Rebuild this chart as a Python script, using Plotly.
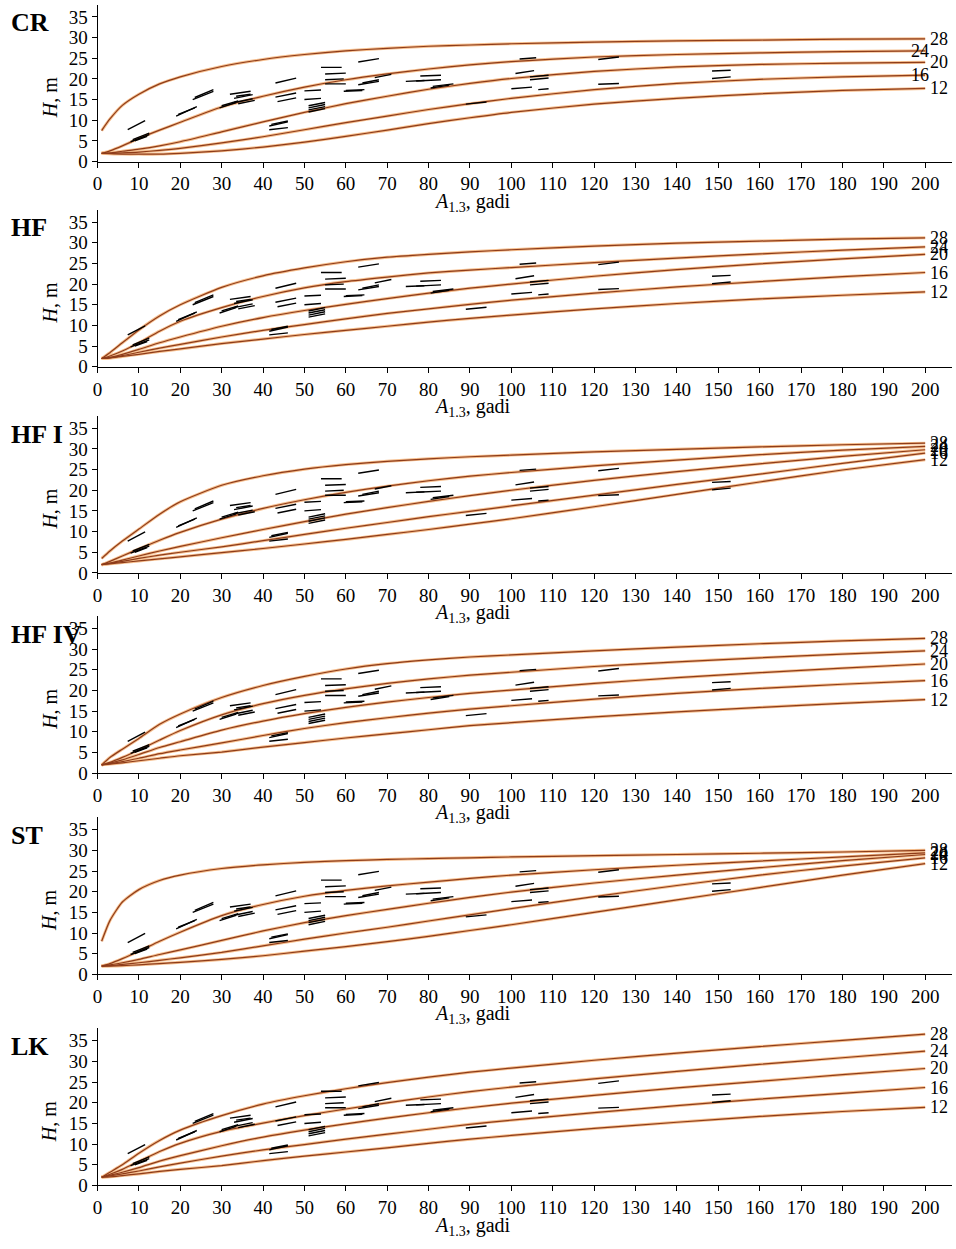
import plotly.graph_objects as go

# ---------------- data ----------------
AGES = [1, 3, 6, 10, 15, 20, 30, 40, 50, 60, 70, 80, 90, 100, 120, 140, 160, 180, 200]
SITE_LABELS = ["28", "24", "20", "16", "12"]
PANELS = ["CR", "HF", "HF I", "HF IV", "ST", "LK"]

CR_28 = [7.5, 10.3, 13.6, 16.3, 18.8, 20.5, 23.0, 24.7, 25.9, 26.8, 27.4, 27.9, 28.2, 28.5, 28.9, 29.2, 29.4, 29.6, 29.7]
CR_24 = [2.0, 2.6, 3.8, 5.6, 7.6, 9.5, 13.2, 15.8, 18.0, 19.8, 21.2, 22.4, 23.4, 24.2, 25.3, 25.9, 26.3, 26.6, 26.8]
CR_20 = [2.0, 2.1, 2.5, 3.0, 3.8, 4.8, 7.2, 9.6, 11.9, 14.0, 15.8, 17.5, 18.9, 20.1, 21.8, 22.9, 23.5, 23.8, 24.0]
CR_16 = [2.0, 2.0, 2.1, 2.3, 2.7, 3.2, 4.5, 6.0, 7.7, 9.4, 11.0, 12.6, 14.0, 15.3, 17.4, 18.9, 19.9, 20.5, 20.9]
CR_12 = [2.0, 1.9, 1.8, 1.8, 1.8, 2.0, 2.6, 3.5, 4.7, 6.1, 7.6, 9.2, 10.6, 11.9, 13.9, 15.3, 16.4, 17.2, 17.7]

HF_28 = [2.0, 3.4, 5.8, 8.9, 12.3, 15.0, 19.2, 22.0, 23.9, 25.4, 26.5, 27.2, 27.8, 28.3, 29.2, 29.9, 30.4, 30.9, 31.2]
HF_24 = [2.0, 2.6, 3.8, 5.8, 8.6, 11.0, 14.3, 17.0, 19.1, 20.6, 21.7, 22.7, 23.4, 24.0, 25.2, 26.3, 27.3, 28.2, 29.0]
HF_20 = [2.0, 2.3, 3.0, 4.2, 5.8, 7.2, 9.8, 11.9, 13.6, 15.1, 16.5, 17.8, 19.0, 20.0, 21.9, 23.5, 24.9, 26.1, 27.2]
HF_16 = [2.0, 2.2, 2.7, 3.5, 4.5, 5.4, 7.2, 8.8, 10.2, 11.6, 12.9, 14.0, 15.1, 16.1, 17.8, 19.3, 20.6, 21.8, 22.8]
HF_12 = [2.0, 2.1, 2.5, 3.0, 3.7, 4.3, 5.6, 6.7, 7.8, 8.8, 9.8, 10.8, 11.7, 12.5, 14.0, 15.3, 16.4, 17.3, 18.1]

HFI_28 = [3.5, 5.3, 7.7, 10.6, 14.2, 17.2, 21.2, 23.5, 25.1, 26.2, 27.0, 27.6, 28.1, 28.5, 29.3, 29.9, 30.5, 31.0, 31.4]
HFI_24 = [2.0, 2.8, 4.1, 5.8, 7.9, 9.8, 13.0, 15.6, 17.7, 19.5, 21.0, 22.3, 23.4, 24.3, 25.9, 27.3, 28.6, 29.7, 30.6]
HFI_20 = [2.0, 2.4, 3.1, 4.1, 5.3, 6.4, 8.5, 10.5, 12.4, 14.2, 15.8, 17.3, 18.7, 20.0, 22.4, 24.5, 26.4, 28.2, 29.8]
HFI_16 = [2.0, 2.3, 2.8, 3.5, 4.3, 5.0, 6.3, 7.8, 9.3, 10.8, 12.2, 13.6, 14.9, 16.2, 18.8, 21.4, 23.9, 26.5, 29.0]
HFI_12 = [2.0, 2.2, 2.5, 2.9, 3.4, 3.9, 4.9, 5.9, 7.0, 8.1, 9.3, 10.5, 11.8, 13.1, 16.0, 19.0, 22.0, 24.9, 27.4]

HFIV_28 = [2.0, 3.8, 5.8, 8.4, 11.8, 14.3, 18.3, 21.2, 23.4, 25.2, 26.5, 27.4, 28.1, 28.6, 29.6, 30.5, 31.3, 32.0, 32.6]
HFIV_24 = [2.0, 2.6, 3.8, 5.6, 8.0, 10.3, 14.1, 16.8, 18.8, 20.4, 21.7, 22.8, 23.7, 24.4, 25.8, 26.9, 27.9, 28.8, 29.6]
HFIV_20 = [2.0, 2.4, 3.2, 4.5, 6.2, 7.6, 10.4, 12.6, 14.4, 15.9, 17.2, 18.3, 19.3, 20.1, 21.7, 23.1, 24.3, 25.4, 26.4]
HFIV_16 = [2.0, 2.3, 2.8, 3.6, 4.7, 5.6, 7.3, 9.1, 10.8, 12.2, 13.4, 14.5, 15.5, 16.3, 17.9, 19.3, 20.5, 21.5, 22.4]
HFIV_12 = [2.0, 2.2, 2.5, 3.0, 3.6, 4.2, 5.1, 6.3, 7.4, 8.5, 9.5, 10.5, 11.5, 12.2, 13.6, 14.8, 15.9, 16.9, 17.8]

ST_28 = [8.0, 13.0, 17.5, 20.5, 22.7, 24.0, 25.6, 26.5, 27.1, 27.5, 27.8, 28.0, 28.2, 28.4, 28.7, 29.0, 29.3, 29.6, 30.0]
ST_24 = [2.0, 2.6, 3.8, 5.6, 8.0, 10.2, 14.2, 16.9, 18.9, 20.3, 21.4, 22.3, 23.2, 24.0, 25.3, 26.4, 27.4, 28.4, 29.4]
ST_20 = [2.0, 2.3, 2.8, 3.6, 4.8, 5.9, 8.2, 10.5, 12.5, 14.2, 15.7, 17.2, 18.6, 19.9, 22.1, 24.0, 25.8, 27.5, 29.0]
ST_16 = [2.0, 2.1, 2.4, 2.8, 3.4, 4.0, 5.3, 6.9, 8.5, 10.0, 11.4, 12.9, 14.4, 15.9, 18.8, 21.5, 24.0, 26.2, 28.2]
ST_12 = [2.0, 2.0, 2.1, 2.3, 2.6, 2.9, 3.6, 4.5, 5.6, 6.7, 7.9, 9.2, 10.6, 12.0, 15.0, 18.0, 21.0, 24.0, 26.8]

LK_28 = [2.0, 3.2, 5.0, 7.8, 10.9, 13.4, 16.9, 19.7, 21.7, 23.4, 24.9, 26.2, 27.4, 28.4, 30.3, 32.0, 33.6, 35.1, 36.6]
LK_24 = [2.0, 2.7, 3.9, 5.8, 8.2, 10.2, 13.1, 15.1, 16.9, 18.5, 20.0, 21.4, 22.7, 23.8, 25.8, 27.6, 29.3, 30.9, 32.5]
LK_20 = [2.0, 2.5, 3.2, 4.3, 5.9, 7.2, 9.6, 11.7, 13.4, 14.9, 16.3, 17.6, 18.8, 19.9, 21.8, 23.6, 25.2, 26.8, 28.3]
LK_16 = [2.0, 2.3, 2.8, 3.5, 4.5, 5.4, 7.1, 8.6, 9.9, 11.2, 12.4, 13.6, 14.8, 15.8, 17.6, 19.3, 20.9, 22.3, 23.7]
LK_12 = [2.0, 2.1, 2.4, 2.8, 3.4, 3.9, 4.8, 6.0, 7.1, 8.1, 9.1, 10.2, 11.2, 12.1, 13.8, 15.3, 16.7, 17.9, 18.9]

CURVES = {
    "CR": [CR_28, CR_24, CR_20, CR_16, CR_12],
    "HF": [HF_28, HF_24, HF_20, HF_16, HF_12],
    "HF I": [HFI_28, HFI_24, HFI_20, HFI_16, HFI_12],
    "HF IV": [HFIV_28, HFIV_24, HFIV_20, HFIV_16, HFIV_12],
    "ST": [ST_28, ST_24, ST_20, ST_16, ST_12],
    "LK": [LK_28, LK_24, LK_20, LK_16, LK_12],
}

# observed height-growth segments (age start, height start, age end, height end)
SEG_A0 = [7.3, 8.0, 8.5, 9.0, 19.0, 19.5, 23.0, 23.5, 29.5, 30.0, 32.0, 33.0, 33.0, 34.0, 33.5,
          41.5, 41.5, 42.0, 43.0, 43.0, 43.5, 50.0, 50.0, 51.0, 51.0, 51.0, 51.0,
          54.0, 55.0, 55.0, 55.0, 59.5, 60.0, 63.0, 63.0, 64.0, 67.0,
          74.5, 77.0, 78.0, 81.0, 80.5, 89.0,
          102.0, 101.0, 104.5, 104.5, 100.0, 106.5, 121.0, 121.0, 148.5, 148.5]
SEG_H0 = [7.7, 4.8, 5.3, 5.0, 11.0, 11.4, 15.0, 15.5, 13.0, 13.5, 16.3, 15.3, 14.3, 14.0, 15.8,
          8.6, 7.7, 9.0, 19.0, 15.6, 14.5, 17.1, 15.0, 12.0, 12.5, 13.0, 13.5,
          22.8, 21.2, 19.8, 18.8, 17.0, 17.2, 24.1, 18.6, 19.0, 20.3,
          19.4, 19.5, 20.7, 18.2, 17.8, 13.9,
          24.8, 21.3, 20.5, 19.8, 17.6, 17.4, 24.7, 18.7, 21.9, 20.1]
SEG_A1 = [11.5, 12.5, 12.5, 12.0, 24.0, 23.5, 28.0, 28.0, 33.5, 34.0, 37.0, 37.5, 37.5, 38.0, 37.0,
          46.0, 46.0, 46.0, 48.0, 48.0, 48.0, 54.0, 54.0, 55.0, 55.0, 55.0, 55.0,
          59.0, 60.0, 59.5, 60.0, 64.0, 64.5, 68.0, 68.0, 68.0, 71.0,
          79.0, 83.0, 83.0, 86.0, 85.0, 94.0,
          106.0, 105.5, 109.0, 109.0, 105.0, 109.0, 126.0, 126.0, 153.0, 153.0]
SEG_H1 = [9.9, 6.5, 6.9, 6.1, 13.3, 13.0, 17.0, 17.4, 14.3, 14.7, 17.0, 16.2, 15.2, 14.8, 16.3,
          9.6, 8.2, 9.8, 20.2, 16.6, 15.4, 17.3, 15.3, 12.8, 13.3, 13.8, 14.3,
          22.8, 21.4, 20.0, 18.8, 17.2, 17.4, 24.9, 19.4, 19.8, 21.1,
          19.6, 19.8, 20.9, 18.8, 18.5, 14.4,
          25.1, 22.0, 20.9, 20.2, 18.0, 17.6, 25.3, 18.9, 22.1, 20.5]

X_TICKS = list(range(0, 201, 10))
Y_TICKS = list(range(0, 36, 5))

# ---------------- layout geometry ----------------
W, HGT = 956, 1249
X0_PX, X1_PX = 93, 952
PX_PER_YEAR = 4.16
XMAX = (X1_PX - X0_PX) / PX_PER_YEAR
PANEL_ZERO_PX = [163, 370, 578, 780, 983, 1196]
PX_PER_M = 4.17
YMAX = 38.0
FONT = "Liberation Serif"
CORE = "#8e3c1a"
GLOW = "#f6bf8e"

# label x offsets (years) for the site labels in each panel
LABEL_DX = {"CR": [0, -4.5, 0, -4.5, 0]}

fig = go.Figure()
annotations = []
layout_axes = {}

for i, name in enumerate(PANELS):
    k = "" if i == 0 else str(i + 1)
    xa, ya = "x" + k, "y" + k
    y0 = PANEL_ZERO_PX[i]
    ytop = y0 - YMAX * PX_PER_M
    layout_axes["xaxis" + k] = dict(
        domain=[X0_PX / W, X1_PX / W], anchor=ya, range=[0, XMAX],
        tickvals=X_TICKS, ticks="outside", ticklen=5, tickcolor="black",
        showline=True, linecolor="black", linewidth=1, showgrid=False, zeroline=False,
        tickfont=dict(family=FONT, size=19, color="black"),
    )
    layout_axes["yaxis" + k] = dict(
        domain=[1 - y0 / HGT, 1 - ytop / HGT], anchor=xa, range=[0, YMAX],
        tickvals=Y_TICKS, ticks="outside", ticklen=5, tickcolor="black",
        showline=True, linecolor="black", linewidth=1, showgrid=False, zeroline=False,
        tickfont=dict(family=FONT, size=19, color="black"),
    )

    curves = CURVES[name]
    for width, color in ((3.0, GLOW), (1.2, CORE)):
        for c in curves:
            fig.add_trace(go.Scatter(
                x=AGES, y=c, mode="lines", xaxis=xa, yaxis=ya,
                line=dict(color=color, width=width, shape="spline", smoothing=0.6),
                hoverinfo="skip", showlegend=False,
            ))

    sx, sy = [], []
    for a0, h0, a1, h1 in zip(SEG_A0, SEG_H0, SEG_A1, SEG_H1):
        sx += [a0, a1, None]
        sy += [h0, h1, None]
    fig.add_trace(go.Scatter(
        x=sx, y=sy, mode="lines", xaxis=xa, yaxis=ya,
        line=dict(color="black", width=1.4), hoverinfo="skip", showlegend=False,
    ))

    dxs = LABEL_DX.get(name, [0] * 5)
    for lab, c, dx in zip(SITE_LABELS, curves, dxs):
        annotations.append(dict(
            x=AGES[-1] + 0.6 + dx, y=c[-1], xref=xa, yref=ya, text=lab,
            showarrow=False, xanchor="left", yanchor="middle",
            font=dict(family=FONT, size=18, color="black"),
        ))

    # panel label
    annotations.append(dict(
        x=4 / W, y=1 - (y0 - 140) / HGT, xref="paper", yref="paper",
        text="<b>%s</b>" % name, showarrow=False, xanchor="left", yanchor="middle",
        font=dict(family=FONT, size=26, color="black"),
    ))
    # y title
    annotations.append(dict(
        x=45 / W, y=15.5, xref="paper", yref=ya, text="<i>H</i>, m",
        textangle=-90, showarrow=False, xanchor="center", yanchor="middle",
        font=dict(family=FONT, size=20, color="black"),
    ))
    # x title
    annotations.append(dict(
        x=470 / W, y=1 - (y0 + 41) / HGT, xref="paper", yref="paper",
        text="<i>A</i><sub>1.3</sub>, gadi", showarrow=False,
        xanchor="center", yanchor="middle",
        font=dict(family=FONT, size=20, color="black"),
    ))

fig.update_layout(
    width=W, height=HGT, margin=dict(l=0, r=0, t=0, b=0),
    paper_bgcolor="white", plot_bgcolor="white",
    annotations=annotations, showlegend=False, **layout_axes,
)

fig.write_html("out.html")
